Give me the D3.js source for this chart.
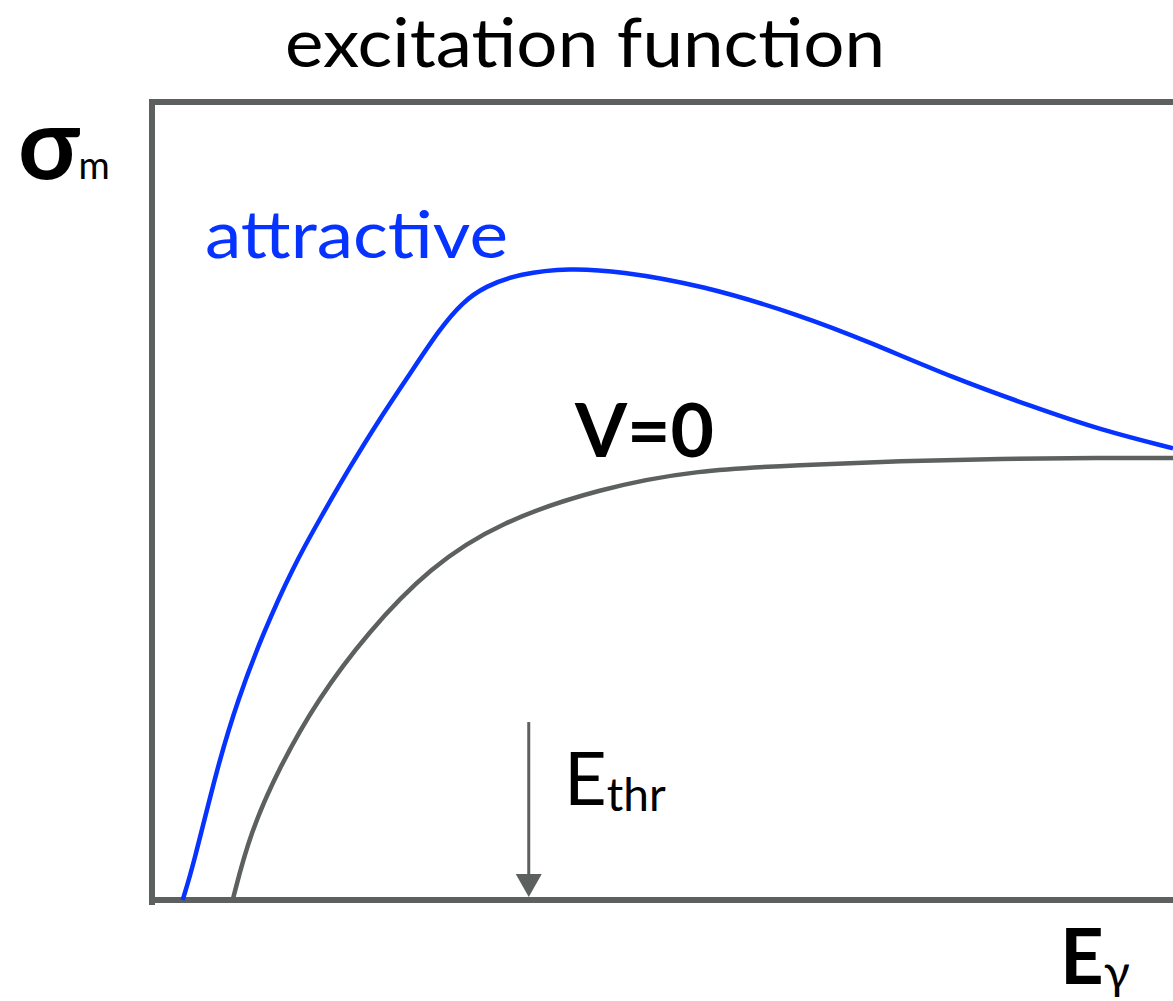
<!DOCTYPE html>
<html>
<head>
<meta charset="utf-8">
<script src="https://cdn.jsdelivr.net/npm/d3@7"></script>
<style>
body{margin:0;background:#fff;}
#chart{width:1173px;height:1001px;}
text{font-family:Lato,"Noto Sans",sans-serif;}
</style>
</head>
<body>
<div id="chart"></div>
<script>
// curve values (arbitrary units, 0..100 both ways)
var attractiveE = [3.0, 4.0, 6.4, 8.4, 10.9, 13.8, 16.5, 19.4, 22.3, 25.3, 28.2, 30.4, 32.6, 36.0, 40.9, 45.8, 53.7, 63.5, 70.3, 78.5, 86.3, 92.9, 100];
var attractiveS = [0, 4.1, 16.7, 25.1, 33.5, 41.7, 47.9, 54.3, 60.3, 66.0, 71.6, 74.9, 76.9, 78.5, 79.2, 78.8, 77.1, 73.3, 69.9, 65.4, 61.8, 58.9, 56.6];
var noPotE = [7.9, 9.6, 12.5, 16.2, 21.1, 27.2, 34.1, 43.9, 53.4, 63.5, 73.3, 83.1, 92.9, 100];
var noPotS = [0, 8.4, 16.7, 25.1, 33.5, 41.7, 47.4, 51.6, 53.9, 54.5, 55.0, 55.3, 55.4, 55.4];
var thresholdE = 36.9;
var arrowTopS = 22.3;

class ExcitationChart{
	constructor(divID,w,h){
		this.divid = divID;
		this.w = w;
		this.h = h;
		this.left = 152;
		this.top = 102;
		this.bottom = 900;
		this.axisColor = "#5c605e";
		this.blue = "#0633ff";
		this.run();
	}
	run(){
		this.setScales();
		this.svg = d3.select("#"+this.divid)
			.append("svg")
			.attr("width", this.w)
			.attr("height", this.h);
		this.drawFrame();
		this.drawCurves();
		this.drawThreshold();
		this.drawLabels();
	}
	setScales(){
		this.xScale = d3.scaleLinear().domain([0,100]).range([this.left, this.w]);
		this.yScale = d3.scaleLinear().domain([0,100]).range([this.bottom, this.top]);
		var xs = this.xScale, ys = this.yScale;
		this.line = d3.line()
			.x(function(d){ return xs(d.e); })
			.y(function(d){ return ys(d.s); })
			.curve(d3.curveBasis);
	}
	drawFrame(){
		var g = this.svg.append("g").attr("class","frame");
		g.append("line")
			.attr("x1", this.xScale(0)).attr("x2", this.xScale(0))
			.attr("y1", this.yScale(100)-3).attr("y2", this.yScale(0)+5)
			.attr("stroke", this.axisColor).attr("stroke-width", 6);
		g.append("line")
			.attr("x1", this.xScale(0)-3).attr("x2", this.w+10)
			.attr("y1", this.yScale(100)).attr("y2", this.yScale(100))
			.attr("stroke", this.axisColor).attr("stroke-width", 6);
		g.append("line")
			.attr("x1", this.xScale(0)).attr("x2", this.w+10)
			.attr("y1", this.yScale(0)).attr("y2", this.yScale(0))
			.attr("stroke", this.axisColor).attr("stroke-width", 6);
	}
	drawCurves(){
		var blueData = attractiveE.map(function(e,i){ return {e:e, s:attractiveS[i]}; });
		var grayData = noPotE.map(function(e,i){ return {e:e, s:noPotS[i]}; });
		this.svg.append("path")
			.datum(grayData)
			.attr("d", this.line)
			.attr("fill","none")
			.attr("stroke", this.axisColor)
			.attr("stroke-width", 4.5);
		this.svg.append("path")
			.datum(blueData)
			.attr("d", this.line)
			.attr("fill","none")
			.attr("stroke", this.blue)
			.attr("stroke-width", 4.5);
	}
	drawThreshold(){
		var x = this.xScale(thresholdE);
		var yb = this.yScale(0)-3;
		this.svg.append("line")
			.attr("x1", x).attr("x2", x)
			.attr("y1", this.yScale(arrowTopS)).attr("y2", yb-18)
			.attr("stroke", this.axisColor).attr("stroke-width", 3);
		this.svg.append("path")
			.attr("d", "M"+(x-13)+","+(yb-23)+"L"+(x+13)+","+(yb-23)+"L"+x+","+yb+"Z")
			.attr("fill", this.axisColor);
	}
	drawLabels(){
		this.svg.append("text")
			.attr("x", 285).attr("y", 67)
			.attr("font-size", 67)
			.attr("textLength", 600)
			.attr("lengthAdjust","spacingAndGlyphs")
			.attr("fill","#000")
			.text("excitation function");

		var sig = this.svg.append("text")
			.attr("x", 18).attr("y", 179)
			.attr("font-size", 100)
			.attr("font-weight","bold")
			.attr("fill","#000");
		sig.append("tspan").text("σ");
		sig.append("tspan").attr("font-size", 38).attr("font-weight","normal").attr("dx", -1).text("m");

		this.svg.append("text")
			.attr("x", 205).attr("y", 258)
			.attr("font-size", 66)
			.attr("textLength", 303)
			.attr("lengthAdjust","spacingAndGlyphs")
			.attr("fill", this.blue)
			.text("attractive");

		this.svg.append("text")
			.attr("x", 575).attr("y", 457)
			.attr("font-size", 75)
			.attr("font-weight","bold")
			.attr("fill","#000")
			.text("V=0");

		var eth = this.svg.append("text")
			.attr("x", 564).attr("y", 805)
			.attr("font-size", 74)
			.attr("fill","#000");
		eth.append("tspan").text("E");
		eth.append("tspan").attr("font-size", 46).attr("dy", 6).text("thr");

		var eg = this.svg.append("text")
			.attr("x", 1060).attr("y", 984)
			.attr("font-size", 76)
			.attr("font-weight","bold")
			.attr("fill","#000");
		eg.append("tspan").text("E");
		eg.append("tspan").attr("font-size", 48).attr("font-weight","normal").attr("dy", 5).text("γ");
	}
}

new ExcitationChart("chart", 1173, 1001);
</script>
</body>
</html>
